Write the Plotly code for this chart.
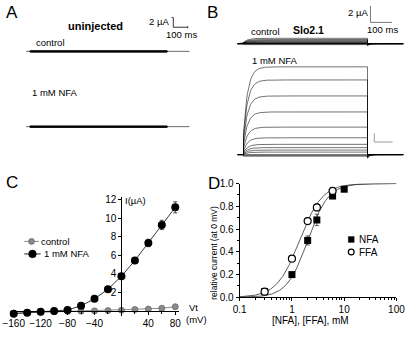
import numpy as np
import plotly.graph_objects as go

W, H = 416, 341
FONT = "Liberation Sans, Arial, sans-serif"

# ---------------- data ----------------
# C: steady-state current vs test potential (mean ± SEM), µA
vt_mv = [-160, -140, -120, -100, -80, -60, -40, -20, 0, 20, 40, 60, 80]
i_control = [-0.25, -0.2, -0.15, -0.1, -0.06, -0.03, 0.0, 0.03, 0.07, 0.15, 0.2, 0.28, 0.45]
i_control_sem = [0.03, 0.03, 0.03, 0.03, 0.03, 0.03, 0.03, 0.04, 0.05, 0.06, 0.08, 0.1, 0.12]
i_nfa = [-0.3, -0.2, -0.1, 0.0, 0.1, 0.55, 1.3, 2.35, 3.75, 5.45, 7.35, 9.3, 11.2]
i_nfa_sem = [0.05, 0.05, 0.05, 0.05, 0.05, 0.1, 0.15, 0.2, 0.25, 0.3, 0.4, 0.5, 0.6]

# D: relative current at 0 mV vs drug concentration (mM)
nfa_mm = [0.3, 1, 2, 3, 6, 10]
nfa_rel = [0.05, 0.20, 0.50, 0.68, 0.89, 0.95]
nfa_sem = [0.01, 0.01, 0.04, 0.05, 0.02, 0.01]
ffa_mm = [0.3, 1, 2, 3, 6]
ffa_rel = [0.05, 0.34, 0.67, 0.79, 0.935]
ffa_sem = [0.01, 0.015, 0.03, 0.03, 0.01]
nfa_ec50, nfa_hill = 2.0, 2.2
ffa_ec50, ffa_hill = 1.4, 2.0

# A: uninjected oocyte, sweep amplitudes (µA) for the same voltage family
uninj_control = [-0.16, -0.13, -0.1, -0.08, -0.05, -0.03, -0.01, 0.0, 0.02, 0.04, 0.06, 0.09, 0.12]
uninj_nfa = [-0.17, -0.14, -0.11, -0.08, -0.05, -0.03, -0.01, 0.0, 0.02, 0.04, 0.07, 0.1, 0.13]

# B: Slo2.1 oocyte, sweep amplitudes (µA)
slo_control = [-0.12, -0.08, -0.05, 0.0, 0.02, 0.05, 0.1, 0.15, 0.22, 0.3, 0.4, 0.5, 0.65]
slo_nfa = [-0.2, -0.1, 0.05, 0.3, 0.55, 0.85, 1.25, 2.05, 3.35, 5.2, 7.15, 9.1, 10.7]

# ---------------- geometry helpers ----------------
def px(x):
    return x / W


def py(y):
    return 1 - y / H


fig = go.Figure()

# ---------------- panel A (uninjected) ----------------
A_T0, A_PXMS = 24, 0.15          # pulse onset (px) and px per ms
A_BASE, A_PXUA = 47, 5.0         # control baseline (px) and px per µA
a_pulse, a_pre, a_post = 950, 27, 155
a_nfa_offset = -(125 - A_BASE) / A_PXUA

for off, levels in ((0.0, uninj_control), (a_nfa_offset, uninj_nfa)):
    fig.add_trace(go.Scatter(
        x=[-a_pre, 0, None, a_pulse, a_pulse + a_post], y=[off, off, None, off, off],
        mode="lines", line=dict(color="#7a7a7a", width=1.1),
        xaxis="x3", yaxis="y3", hoverinfo="skip"))
    for lv in levels:
        fig.add_trace(go.Scatter(
            x=[0, 0, a_pulse, a_pulse], y=[off, off + lv, off + lv, off],
            mode="lines", line=dict(color="rgba(0,0,0,0.55)", width=1),
            xaxis="x3", yaxis="y3", hoverinfo="skip"))

# ---------------- panel B (Slo2.1) ----------------
B_T0, B_PXMS = 246, 0.225
B_BASE, B_PXUA = 154, 8.5
b_pulse, b_pre, b_post = 573, 27, 165
b_ctrl_offset = (B_BASE - 39) / B_PXUA
tau_act, inst_frac = 20.0, 0.25
tau_tail = 8.0

t_on = np.linspace(0, b_pulse, 160)
t_off = np.linspace(b_pulse, b_pulse + b_post, 80)


def sweep(level, tail_amp):
    if level > 0:
        on = level * (inst_frac + (1 - inst_frac) * (1 - np.exp(-t_on / tau_act)))
    else:
        on = np.full_like(t_on, level)
    off = -tail_amp * np.exp(-(t_off - b_pulse) / tau_tail)
    t = np.concatenate([[-b_pre, 0.0], t_on, t_off])
    i = np.concatenate([[0.0, 0.0], on, off])
    return t, i


for off, levels, tail_max in ((b_ctrl_offset, slo_control, 0.25), (0.0, slo_nfa, 0.45)):
    top = max(levels)
    for lv in levels:
        t, i = sweep(lv, tail_max * max(lv, 0) / top)
        fig.add_trace(go.Scatter(
            x=t, y=i + off, mode="lines",
            line=dict(color="rgba(0,0,0,0.55)", width=1),
            xaxis="x4", yaxis="y4", hoverinfo="skip"))

# ---------------- panel C (I-V) ----------------
fig.add_trace(go.Scatter(
    x=vt_mv, y=i_control, mode="lines+markers",
    line=dict(color="#8a8a8a", width=1),
    marker=dict(color="#8a8a8a", size=6, line=dict(color="#666", width=0.8)),
    error_y=dict(array=i_control_sem, color="#8a8a8a", thickness=0.8, width=2),
    xaxis="x", yaxis="y", cliponaxis=False))
fig.add_trace(go.Scatter(
    x=vt_mv, y=i_nfa, mode="lines+markers",
    line=dict(color="#222", width=0.9),
    marker=dict(color="black", size=8),
    error_y=dict(array=i_nfa_sem, color="#222", thickness=0.8, width=2),
    xaxis="x", yaxis="y", cliponaxis=False))

# ---------------- panel D (dose-response) ----------------
conc = np.logspace(-1, 2, 300)
for ec50, nh in ((nfa_ec50, nfa_hill), (ffa_ec50, ffa_hill)):
    fig.add_trace(go.Scatter(
        x=conc, y=1 / (1 + (ec50 / conc) ** nh), mode="lines",
        line=dict(color="#333", width=0.8),
        xaxis="x2", yaxis="y2", hoverinfo="skip"))
fig.add_trace(go.Scatter(
    x=nfa_mm, y=nfa_rel, mode="markers",
    marker=dict(symbol="square", color="black", size=7),
    error_y=dict(array=nfa_sem, color="#333", thickness=0.8, width=2),
    xaxis="x2", yaxis="y2", cliponaxis=False))
fig.add_trace(go.Scatter(
    x=ffa_mm, y=ffa_rel, mode="markers",
    marker=dict(symbol="circle", color="white", size=7, line=dict(color="black", width=1.2)),
    error_y=dict(array=ffa_sem, color="#333", thickness=0.8, width=2),
    xaxis="x2", yaxis="y2", cliponaxis=False))

# ---------------- shapes: scale bars & legend glyphs ----------------
shapes = []
# A scale bar: 2 µA / 100 ms
sa_t, sa_y = 993, 5.0
shapes += [
    dict(type="line", xref="x3", yref="y3", x0=sa_t, x1=sa_t, y0=sa_y, y1=sa_y + 2, line=dict(color="#333", width=1)),
    dict(type="line", xref="x3", yref="y3", x0=sa_t - 12, x1=sa_t, y0=sa_y + 2, y1=sa_y + 2, line=dict(color="#333", width=1)),
    dict(type="line", xref="x3", yref="y3", x0=sa_t, x1=sa_t + 100, y0=sa_y, y1=sa_y, line=dict(color="#333", width=1)),
    dict(type="line", xref="x3", yref="y3", x0=sa_t + 100, x1=sa_t + 100, y0=sa_y - 0.2, y1=sa_y + 0.2, line=dict(color="#333", width=1)),
]
# B scale bar: 2 µA / 100 ms
sb_t = (378 - B_T0) / B_PXMS
sb_y = (B_BASE - 17) / B_PXUA
shapes += [
    dict(type="line", xref="x4", yref="y4", x0=sb_t, x1=sb_t, y0=sb_y, y1=sb_y + 2, line=dict(color="#777", width=1)),
    dict(type="line", xref="x4", yref="y4", x0=sb_t, x1=sb_t + 100, y0=sb_y, y1=sb_y, line=dict(color="#777", width=1)),
]
# small grey bar inside the NFA family
shapes += [
    dict(type="line", xref="paper", yref="paper", x0=px(382), x1=px(382), y0=py(132), y1=py(141), line=dict(color="#999", width=1)),
    dict(type="line", xref="paper", yref="paper", x0=px(382), x1=px(401), y0=py(141), y1=py(141), line=dict(color="#999", width=1)),
]
# C legend glyphs
shapes += [
    dict(type="line", xref="paper", yref="paper", x0=px(18), x1=px(33), y0=py(244), y1=py(244), line=dict(color="#8a8a8a", width=1)),
    dict(type="circle", xref="paper", yref="paper", x0=px(22.5), x1=px(28.5), y0=py(247), y1=py(241), fillcolor="#8a8a8a", line=dict(color="#666", width=0.8)),
    dict(type="line", xref="paper", yref="paper", x0=px(18), x1=px(35), y0=py(257), y1=py(257), line=dict(color="#222", width=1)),
    dict(type="circle", xref="paper", yref="paper", x0=px(22.5), x1=px(30.5), y0=py(261), y1=py(253), fillcolor="black", line=dict(color="black", width=0.5)),
]
# D legend glyphs
shapes += [
    dict(type="rect", xref="paper", yref="paper", x0=px(355), x1=px(361), y0=py(245), y1=py(239), fillcolor="black", line=dict(color="black", width=0.5)),
    dict(type="circle", xref="paper", yref="paper", x0=px(355), x1=px(361), y0=py(258), y1=py(252), fillcolor="white", line=dict(color="black", width=1.2)),
]


def ann(text, x, y, size=10, anchor="left", bold=False, angle=0):
    return dict(
        text=f"<b>{text}</b>" if bold else text, x=px(x), y=py(y), xref="paper", yref="paper",
        xanchor=anchor, yanchor="middle", showarrow=False, textangle=angle,
        font=dict(family=FONT, size=size, color="black"))


annotations = [
    ann("A", -3, 7, 17), ann("B", 206, 7, 17), ann("C", -3, 183, 17), ann("D", 207, 184, 17),
    ann("uninjected", 92, 21, 11, "center", True),
    ann("control", 28, 38, 9.5), ann("1 mM NFA", 24, 90, 9.5),
    ann("2 µA", 171, 16, 9.5, "right"), ann("100 ms", 181, 30, 9.5, "center"),
    ann("Slo2.1", 314, 25, 10.5, "center", True),
    ann("control", 252, 26, 9.5), ann("1 mM NFA", 253, 57, 9.5),
    ann("2 µA", 377, 7, 9.5, "right"), ann("100 ms", 391, 24, 9.5, "center"),
    ann("I(µA)", 121, 202, 9.5), ann("Vt", 187, 312, 9.5), ann("(mV)", 184, 325, 9.5),
    ann("control", 33, 244, 9.5), ann("1 mM NFA", 36, 257, 9.5),
    ann("NFA", 364, 242, 10), ann("FFA", 364, 255, 10),
    ann("relative current (at 0 mV)", 215, 256, 8.5, "center", angle=-90),
    ann("[NFA], [FFA], mM", 316, 326, 10, "center"),
]

# ---------------- axes ----------------
hidden = dict(visible=False, showgrid=False, zeroline=False, fixedrange=True)
C_X0, C_PXMV = 7, 0.7            # -160 mV position and px per mV
C_BASE, C_PXUA = 316, 9.58
c_xr = [-165, 85]
c_yr = [-(321 - C_BASE) / C_PXUA, (C_BASE - 198) / C_PXUA]

axis_style = dict(showline=True, linecolor="black", linewidth=1, ticks="outside",
                  tickcolor="black", ticklen=3, showgrid=False, zeroline=False,
                  tickfont=dict(family=FONT, size=10, color="black"))

fig.update_layout(
    width=W, height=H, margin=dict(l=0, r=0, t=0, b=0),
    paper_bgcolor="white", plot_bgcolor="rgba(0,0,0,0)", showlegend=False,
    xaxis=dict(**axis_style, domain=[px(C_X0 + (c_xr[0] + 160) * C_PXMV), px(C_X0 + (c_xr[1] + 160) * C_PXMV)],
               range=c_xr, anchor="free", position=py(C_BASE),
               tickvals=[-160, -120, -80, -40, 40, 80],
               minor=dict(tickvals=[-140, -100, -60, -20, 0, 20, 60], ticks="outside", ticklen=2, tickcolor="black")),
    yaxis=dict(**axis_style, domain=[py(321), py(198)], range=c_yr, anchor="free", position=px(119),
               tickvals=[2, 4, 6, 8, 10, 12]),
    xaxis2=dict(**axis_style, type="log", domain=[px(242), px(405)], range=[-1, 2], anchor="y2", dtick=1,
                minor=dict(ticks="outside", ticklen=2, tickcolor="black")),
    yaxis2=dict(**axis_style, domain=[py(302), py(184)], range=[0, 1.0], anchor="x2", dtick=0.2,
                tickformat=".1f", minor=dict(dtick=0.1, ticks="outside", ticklen=2, tickcolor="black")),
    xaxis3=dict(**hidden, domain=[0, px(208)], range=[-A_T0 / A_PXMS, (208 - A_T0) / A_PXMS], anchor="y3"),
    yaxis3=dict(**hidden, domain=[py(170), 1], range=[-(170 - A_BASE) / A_PXUA, A_BASE / A_PXUA], anchor="x3"),
    xaxis4=dict(**hidden, domain=[px(208), 1], range=[-(B_T0 - 208) / B_PXMS, (W - B_T0) / B_PXMS], anchor="y4"),
    yaxis4=dict(**hidden, domain=[py(170), 1], range=[-(170 - B_BASE) / B_PXUA, B_BASE / B_PXUA], anchor="x4"),
    shapes=shapes, annotations=annotations,
)

fig.write_html("out.html")
